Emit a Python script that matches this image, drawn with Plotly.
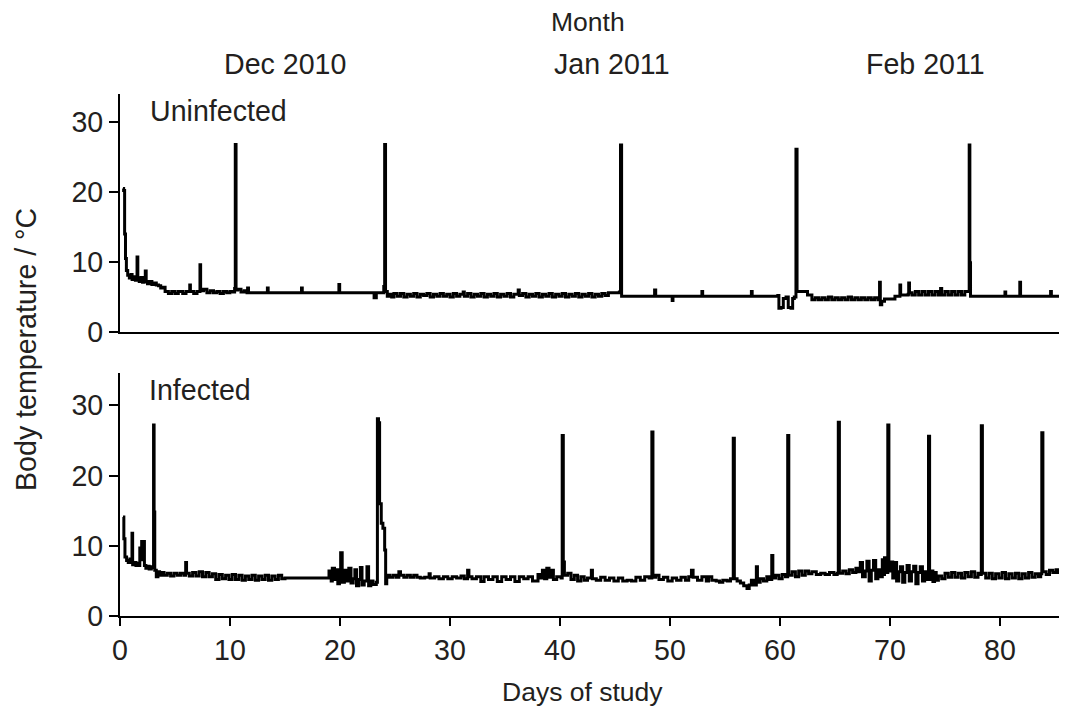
import plotly.graph_objects as go

# ---------------- data ----------------
uninfected_readings = [
    (0.27,20.5),(0.33,20.2),(0.42,14.0),(0.5,10.5),(0.58,8.8),(0.7,8.1),(0.85,7.7),(1.0,8.2),(1.1,7.5),(1.25,7.9),
    (1.4,7.4),(1.5,7.8),(1.55,10.7),(1.62,7.6),(1.75,7.2),(1.9,7.8),(2.05,7.1),(2.2,7.4),(2.3,8.7),(2.38,7.2),
    (2.5,6.9),(2.7,7.2),(2.9,6.8),(3.1,7.0),(3.3,6.7),(3.5,6.6),(3.7,6.3),(3.9,6.4),(4.1,5.8),(4.4,5.5),
    (4.7,5.8),(5.0,5.5),(5.3,5.8),(5.7,5.5),(6.0,5.8),(6.3,5.8),(6.34,6.7),(6.4,5.8),(6.7,5.5),(7.0,5.8),
    (7.2,5.8),(7.27,9.6),(7.33,5.9),(7.6,6.1),(7.9,5.6),(8.2,5.9),(8.5,5.6),(8.8,5.8),(9.1,5.5),(9.4,5.8),
    (9.7,5.6),(10.0,5.8),(10.3,5.7),(10.42,6.2),(10.48,26.8),(10.55,6.0),(10.7,6.1),(11.0,5.7),(11.3,5.9),(11.55,5.6),
    (11.6,6.3),(11.68,5.6),(12.3,5.6),(12.9,5.6),(13.35,5.6),(13.4,6.3),(13.47,5.6),(14.5,5.6),(15.5,5.6),(16.45,5.6),
    (16.5,6.3),(16.57,5.6),(17.5,5.6),(18.5,5.6),(19.85,5.6),(19.9,6.8),(19.97,5.6),(21.0,5.6),(22.0,5.6),(23.0,5.6),
    (23.1,4.9),(23.25,4.9),(23.3,5.6),(23.8,5.6),(23.98,6.5),(24.06,26.8),(24.14,5.8),(24.3,5.1),(24.5,5.4),(24.7,5.0),
    (24.9,5.5),(25.2,5.1),(25.5,5.5),(25.8,5.0),(26.1,5.4),(26.4,5.1),(26.7,5.5),(27.0,5.0),(27.3,5.4),(27.6,5.2),
    (27.9,5.5),(28.2,5.0),(28.5,5.4),(28.8,5.1),(29.1,5.5),(29.4,5.1),(29.7,5.4),(30.0,5.0),(30.3,5.5),(30.6,5.1),
    (30.9,5.4),(31.2,5.7),(31.3,5.1),(31.6,5.5),(31.9,5.0),(32.2,5.4),(32.5,5.1),(32.8,5.5),(33.1,5.0),(33.4,5.4),
    (33.7,5.1),(34.0,5.5),(34.3,5.0),(34.6,5.4),(34.9,5.1),(35.2,5.5),(35.5,5.0),(35.8,5.4),(36.2,6.0),(36.3,5.2),
    (36.6,5.5),(36.9,5.0),(37.2,5.4),(37.5,5.1),(37.8,5.5),(38.1,5.0),(38.4,5.4),(38.7,5.1),(39.0,5.5),(39.3,5.0),
    (39.6,5.4),(39.9,5.1),(40.2,5.5),(40.5,5.0),(40.8,5.4),(41.1,5.1),(41.4,5.5),(41.7,5.0),(42.0,5.4),(42.3,5.1),
    (42.6,5.5),(42.9,5.0),(43.2,5.4),(43.5,5.1),(43.8,5.5),(44.1,5.2),(44.4,5.6),(44.7,5.6),(45.0,5.6),(45.4,5.7),
    (45.5,26.7),(45.6,5.1),(46.5,5.1),(47.5,5.1),(48.5,5.1),(48.6,6.0),(48.7,5.1),(49.5,5.1),(50.15,5.1),(50.2,4.5),
    (50.27,5.1),(51.5,5.1),(52.85,5.1),(52.9,5.8),(52.97,5.1),(54.5,5.1),(56.0,5.1),(57.35,5.1),(57.4,5.8),(57.47,5.1),
    (58.5,5.1),(59.6,5.1),(59.8,5.2),(59.9,3.4),(60.1,3.5),(60.3,4.8),(60.55,5.0),(60.75,3.5),(61.0,3.4),(61.15,4.8),
    (61.3,5.0),(61.45,26.1),(61.55,5.8),(62.0,5.8),(62.45,5.8),(62.5,5.3),(62.85,5.3),(62.9,4.6),(63.2,4.9),(63.5,4.6),
    (63.8,4.9),(64.1,4.6),(64.4,5.0),(64.7,4.6),(65.0,4.9),(65.3,4.6),(65.6,4.9),(65.9,4.6),(66.2,5.0),(66.5,4.6),
    (66.8,4.9),(67.1,4.6),(67.4,4.9),(67.7,4.6),(68.0,4.9),(68.3,4.6),(68.6,4.9),(68.9,4.6),(69.05,7.1),(69.12,3.9),
    (69.25,4.4),(69.5,4.7),(70.0,4.7),(70.4,4.7),(70.45,5.1),(70.85,5.1),(70.9,6.7),(70.97,5.3),(71.3,5.3),(71.65,5.4),
    (71.7,7.0),(71.77,5.6),(72.0,5.3),(72.3,5.8),(72.6,5.3),(72.9,5.8),(73.2,5.3),(73.5,5.8),(73.8,5.3),(74.1,5.8),
    (74.4,5.3),(74.6,6.2),(74.7,5.3),(75.0,5.8),(75.3,5.3),(75.6,5.8),(75.9,5.3),(76.2,5.8),(76.5,5.3),(76.8,5.8),
    (77.05,5.8),(77.2,26.7),(77.26,9.9),(77.32,5.1),(78.5,5.1),(79.5,5.1),(80.4,5.1),(80.45,5.7),(80.52,5.1),(81.2,5.1),
    (81.75,5.1),(81.8,7.1),(81.87,5.1),(83.0,5.1),(84.55,5.1),(84.6,5.8),(84.67,5.1),(85.6,5.1),
]

infected_readings = [
    (0.27,14.1),(0.35,11.0),(0.45,8.4),(0.6,7.9),(0.75,7.6),(0.9,8.1),(1.02,7.6),(1.09,11.8),(1.15,7.3),(1.3,7.6),
    (1.45,7.2),(1.6,7.5),(1.75,7.2),(1.8,9.7),(1.88,8.0),(1.97,10.6),(2.05,8.5),(2.15,10.6),(2.22,7.2),(2.35,6.8),
    (2.5,7.1),(2.65,6.7),(2.85,7.0),(2.98,6.9),(3.05,27.2),(3.1,14.8),(3.16,6.5),(3.3,5.6),(3.45,6.3),(3.6,5.8),
    (3.8,6.2),(4.0,5.8),(4.3,6.1),(4.6,5.7),(4.9,6.1),(5.2,5.8),(5.5,6.1),(5.8,5.8),(5.9,5.8),(5.97,7.6),
    (6.05,6.1),(6.3,5.7),(6.6,6.2),(6.9,5.7),(7.2,6.3),(7.5,5.6),(7.8,6.2),(8.1,5.6),(8.4,6.0),(8.7,5.2),
    (9.0,5.9),(9.3,5.3),(9.6,5.8),(9.9,5.2),(10.2,5.9),(10.5,5.2),(10.8,5.8),(11.1,5.1),(11.4,5.7),(11.7,5.2),
    (12.0,5.8),(12.3,5.1),(12.6,5.7),(12.9,5.2),(13.2,5.8),(13.5,5.1),(13.8,5.7),(14.1,5.2),(14.4,5.8),(14.7,5.3),
    (15.0,5.4),(16.0,5.4),(17.0,5.4),(18.0,5.4),(18.9,5.4),(19.0,6.4),(19.2,5.0),(19.3,6.8),(19.5,5.2),(19.65,6.6),
    (19.8,4.6),(19.95,5.2),(20.06,9.0),(20.2,4.8),(20.4,6.5),(20.6,5.0),(20.8,6.8),(21.0,4.7),(21.2,5.3),(21.35,6.6),
    (21.5,4.3),(21.7,5.2),(21.85,6.9),(22.0,4.4),(22.2,5.0),(22.45,7.0),(22.6,4.3),(22.8,5.0),(23.0,4.5),(23.3,4.8),
    (23.4,28.1),(23.5,27.5),(23.6,16.0),(23.75,13.2),(23.9,12.5),(24.06,9.4),
    (24.15,4.6),(24.25,5.8),(24.5,5.5),(24.8,5.8),(25.1,5.5),(25.35,6.3),(25.5,5.8),(25.8,5.5),(26.1,5.8),(26.4,5.5),
    (26.7,5.8),(27.0,5.5),(27.3,5.4),(27.7,5.5),(28.1,6.0),(28.2,5.4),(28.6,5.6),(29.0,5.3),(29.4,5.6),(29.8,5.3),
    (30.2,5.6),(30.6,5.4),(31.0,5.7),(31.3,5.3),(31.6,6.5),(31.72,5.6),(32.0,5.3),(32.4,5.6),(32.8,4.9),(33.1,5.6),
    (33.5,5.2),(33.9,5.6),(34.3,4.9),(34.7,5.6),(35.1,5.2),(35.5,5.6),(35.9,4.9),(36.3,5.6),(36.7,5.3),(37.1,5.6),
    (37.5,5.0),(38.0,5.9),(38.2,5.4),(38.4,6.5),(38.6,5.3),(38.8,6.8),(39.0,5.5),(39.2,6.5),(39.4,5.2),(39.7,5.6),
    (40.1,5.4),(40.2,25.7),(40.3,7.7),(40.4,5.8),(40.7,6.1),(41.0,5.2),(41.3,5.8),(41.6,5.0),(41.9,5.6),(42.2,5.1),
    (42.5,5.4),(42.85,6.5),(42.95,5.3),(43.3,5.1),(43.7,5.5),(44.1,5.1),(44.5,5.4),(44.9,5.0),(45.3,5.4),(45.7,5.0),
    (46.1,5.1),(46.5,5.0),(46.9,5.5),(47.3,5.1),(47.7,5.6),(48.1,5.4),(48.35,26.2),(48.45,5.5),(48.7,5.8),(49.0,5.2),
    (49.4,5.5),(49.8,5.0),(50.2,5.4),(50.6,5.1),(51.0,5.5),(51.4,5.1),(51.7,5.6),(51.95,6.5),(52.1,5.5),(52.5,5.1),
    (52.9,5.6),(53.3,5.0),(53.5,5.6),(53.8,5.1),(54.2,5.0),(54.5,4.8),(54.8,5.1),(55.2,5.0),(55.5,5.3),(55.75,25.3),
    (55.85,5.3),(56.1,5.0),(56.4,4.7),(56.7,4.3),(57.0,3.9),(57.2,4.4),(57.4,5.1),(57.6,4.4),(57.85,7.0),(57.95,4.8),
    (58.2,5.3),(58.5,5.0),(58.8,5.6),(59.0,5.2),(59.25,8.6),(59.35,5.4),(59.6,5.8),(59.9,5.3),(60.2,5.9),(60.5,5.6),
    (60.7,25.7),(60.8,5.8),(61.1,6.3),(61.4,5.6),(61.7,6.4),(62.0,5.8),(62.3,6.4),(62.6,6.0),(62.9,6.3),(63.3,5.9),
    (63.7,6.1),(64.1,5.9),(64.5,6.2),(64.9,5.9),(65.2,6.1),(65.3,27.6),(65.4,6.1),(65.7,6.4),(66.0,6.0),(66.3,6.6),
    (66.6,6.2),(66.9,6.8),(67.1,6.3),(67.3,7.6),(67.5,5.6),(67.75,6.4),(67.9,7.8),(68.1,5.0),(68.3,6.5),(68.5,7.9),
    (68.7,5.3),(68.9,6.6),(69.1,5.6),(69.3,8.0),(69.4,5.9),(69.5,8.3),(69.6,6.2),
    (69.8,27.2),(69.9,6.4),(70.05,7.7),(70.25,5.4),(70.45,7.6),(70.6,5.0),(70.8,6.3),(70.95,7.0),(71.15,4.8),(71.35,6.2),
    (71.55,7.2),(71.75,5.0),(71.95,6.3),(72.15,7.1),(72.35,4.6),(72.55,6.2),(72.75,7.0),(72.95,5.0),(73.15,6.3),(73.35,5.2),
    (73.5,25.6),(73.6,5.2),(73.75,6.4),(73.9,4.9),(74.05,6.2),
    (74.2,5.1),(74.4,5.7),(74.7,5.3),(75.0,6.1),(75.3,5.5),(75.6,6.2),(75.9,5.5),(76.2,6.1),(76.5,5.4),(76.8,6.2),
    (77.1,5.6),(77.4,6.3),(77.7,5.5),(78.0,6.1),(78.2,5.9),(78.3,27.1),(78.4,6.1),(78.7,5.4),(79.0,6.1),(79.3,5.3),
    (79.6,6.0),(79.9,5.4),(80.2,6.2),(80.5,5.3),(80.8,6.0),(81.1,5.4),(81.4,6.1),(81.7,5.3),(82.0,6.0),(82.3,5.4),
    (82.6,6.2),(82.9,5.5),(83.2,6.0),(83.5,5.6),(83.7,6.0),(83.8,26.1),(83.9,6.3),(84.2,5.9),(84.5,6.5),(84.8,6.2),
    (85.1,6.6),(85.3,6.2),(85.5,5.8),
]

u_day = [d for d, _ in uninfected_readings]
u_temp = [t for _, t in uninfected_readings]
i_day = [d for d, _ in infected_readings]
i_temp = [t for _, t in infected_readings]

month_labels = ["Dec 2010", "Jan 2011", "Feb 2011"]
month_centres = [15.0, 44.7, 73.2]          # day of study at which each label sits
x_ticks = [0, 10, 20, 30, 40, 50, 60, 70, 80]
y_ticks = [0, 10, 20, 30]
panel_names = ["Uninfected", "Infected"]

# ---------------- figure ----------------
PAGE_W, PAGE_H = 1067, 713
OFF = 8                      # the page body adds an 8 px margin around the figure
W, H = PAGE_W - OFF, PAGE_H - OFF
FONT = "Liberation Sans, Arial, sans-serif"
TXT = "#231f20"
FS = 28.6
FS_TITLE = 26.5

def px_x(p):
    return (p - OFF) / W

def px_y(p):
    return 1 - (p - OFF) / H

x_dom = [px_x(120), px_x(1066)]
top_dom = [px_y(332), px_y(94)]
bot_dom = [px_y(616), px_y(373)]
x_range = [0, (1066 - 120) / 11.0]

fig = go.Figure()
fig.add_trace(go.Scatter(x=u_day, y=u_temp, mode="lines", xaxis="x", yaxis="y",
                         line=dict(color="black", width=3, shape="hv"), showlegend=False))
fig.add_trace(go.Scatter(x=i_day, y=i_temp, mode="lines", xaxis="x2", yaxis="y2",
                         line=dict(color="black", width=3, shape="hv"), showlegend=False))

axis_common = dict(showgrid=False, zeroline=False, showline=True, linecolor="black", linewidth=2,
                   automargin=False, tickfont=dict(family=FONT, size=FS, color=TXT))

fig.update_layout(
    width=W, height=H,
    margin=dict(l=0, r=0, t=0, b=0, pad=0),
    paper_bgcolor="white", plot_bgcolor="white",
    font=dict(family=FONT, color=TXT, size=FS),
    xaxis=dict(domain=x_dom, range=x_range, anchor="y", showticklabels=False, ticks="",
               **axis_common),
    yaxis=dict(domain=top_dom, range=[0, 34.0], anchor="x", tickvals=y_ticks, ticks="outside",
               ticklen=9, tickwidth=2, tickcolor="black", **axis_common),
    xaxis2=dict(domain=x_dom, range=x_range, anchor="y2", tickvals=x_ticks, ticks="outside",
                ticklen=8, tickwidth=2, tickcolor="black", **axis_common),
    yaxis2=dict(domain=bot_dom, range=[0, 34.6], anchor="x2", tickvals=y_ticks, ticks="outside",
                ticklen=9, tickwidth=2, tickcolor="black", **axis_common),
)

ann = []
for lab, c in zip(month_labels, month_centres):
    ann.append(dict(text=lab, x=c, xref="x", y=px_y(64), yref="paper", showarrow=False,
                    xanchor="center", yanchor="middle", font=dict(family=FONT, size=FS, color=TXT)))
ann.append(dict(text="Month", x=px_x(588), xref="paper", y=px_y(22), yref="paper", showarrow=False,
                xanchor="center", yanchor="middle", font=dict(family=FONT, size=FS_TITLE, color=TXT)))
ann.append(dict(text=panel_names[0], x=px_x(148), xref="paper", y=px_y(111), yref="paper",
                showarrow=False, xanchor="left", yanchor="middle",
                font=dict(family=FONT, size=FS, color=TXT)))
ann.append(dict(text=panel_names[1], x=px_x(147), xref="paper", y=px_y(390), yref="paper",
                showarrow=False, xanchor="left", yanchor="middle",
                font=dict(family=FONT, size=FS, color=TXT)))
ann.append(dict(text="Days of study", x=px_x(582), xref="paper", y=px_y(692), yref="paper",
                showarrow=False, xanchor="center", yanchor="middle",
                font=dict(family=FONT, size=FS_TITLE, color=TXT)))
ann.append(dict(text="Body temperature / °C", x=px_x(26), xref="paper", y=px_y(350), yref="paper",
                showarrow=False, xanchor="center", yanchor="middle", textangle=-90,
                font=dict(family=FONT, size=FS, color=TXT)))
fig.update_layout(annotations=ann)

fig.write_html("out.html")
